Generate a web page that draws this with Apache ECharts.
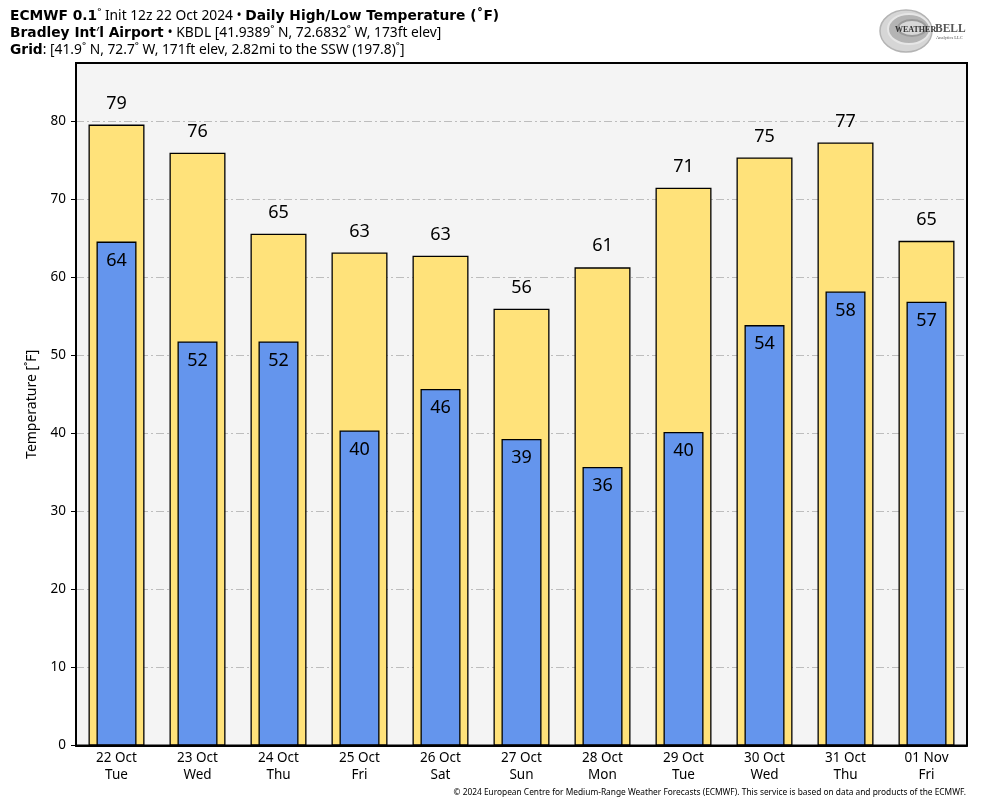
<!DOCTYPE html>
<html lang="en">
<head>
    <meta charset="UTF-8">
    <title>ECMWF Daily High/Low Temperature</title>
    <script src="https://cdn.jsdelivr.net/npm/echarts@6/dist/echarts.min.js"></script>
    <style>
        html, body { margin: 0; padding: 0; background: #fff; }
    </style>
</head>
<body>
<div id="chart" style="width: 984px;height: 808px;"></div>
<script>
    var days = ['22 Oct\nTue','23 Oct\nWed','24 Oct\nThu','25 Oct\nFri','26 Oct\nSat','27 Oct\nSun','28 Oct\nMon','29 Oct\nTue','30 Oct\nWed','31 Oct\nThu','01 Nov\nFri'];
    var highs = [79.6, 76.0, 65.6, 63.2, 62.8, 56.0, 61.3, 71.5, 75.4, 77.3, 64.7];
    var lows = [64.6, 51.8, 51.8, 40.4, 45.7, 39.3, 35.7, 40.2, 53.9, 58.2, 56.9];
    // printed labels don't always round the bar height, so keep them separately
    var highLabels = [79, 76, 65, 63, 63, 56, 61, 71, 75, 77, 65];
    var lowLabels = [64, 52, 52, 40, 46, 39, 36, 40, 54, 58, 57];
    var yTicks = [0, 10, 20, 30, 40, 50, 60, 70, 80];

    var font = '"Noto Sans", sans-serif';
    var rich = {
        b: { fontFamily: '"DejaVu Sans", sans-serif', fontSize: 13.8, fontWeight: 'bold', color: '#000' },
        n: { fontFamily: font, fontSize: 13.8, fontWeight: 'normal', color: '#000' }
    };

    function headLine(top, text) {
        return { left: 10, top: top, padding: 0, text: text, textStyle: { rich: rich, fontSize: 14, fontWeight: 'normal' } };
    }

    var mychart = echarts.init(document.getElementById('chart'), null, { renderer: 'canvas' });

    var option = {
        animation: false,
        backgroundColor: '#fff',
        title: [
            headLine(9, '{b|ECMWF 0.1}{n|˚ Init 12z 22 Oct 2024 • }{b|Daily High/Low Temperature (˚F)}'),
            headLine(26, '{b|Bradley Int}{n|′}{b|l Airport} {n|• KBDL [41.9389˚ N, 72.6832˚ W, 173ft elev]}'),
            headLine(43, '{b|Grid}{n|: [41.9˚ N, 72.7˚ W, 171ft elev, 2.82mi to the SSW (197.8)˚]}'),
            {
                right: 18, top: 789, padding: 0,
                text: '© 2024 European Centre for Medium-Range Weather Forecasts (ECMWF). This service is based on data and products of the ECMWF.',
                textStyle: { fontFamily: font, fontSize: 8.36, fontWeight: 'normal', color: '#000' }
            }
        ],
        grid: {
            left: 76, right: 17, top: 63, bottom: 62.5,
            show: true,
            backgroundColor: '#f4f4f4',
            borderColor: '#000',
            borderWidth: 2
        },
        xAxis: [
            {
                type: 'category',
                data: days,
                axisLine: { show: true, lineStyle: { color: '#000', width: 2 } },
                axisTick: { show: false },
                axisLabel: { fontFamily: font, fontSize: 13.5, color: '#000', lineHeight: 17, margin: 4.5, interval: 0 }
            },
            {
                type: 'category',
                data: days,
                position: 'bottom',
                show: false
            }
        ],
        yAxis: {
            type: 'value',
            min: 0,
            max: 87.5,
            interval: 10,
            name: 'Temperature [˚F]',
            nameLocation: 'middle',
            nameGap: 37,
            nameTextStyle: { fontFamily: font, fontSize: 14, color: '#000' },
            axisLine: { show: true, lineStyle: { color: '#000', width: 2 } },
            axisTick: { show: true, length: 5, customValues: yTicks, lineStyle: { color: '#000', width: 1 } },
            axisLabel: { fontFamily: font, fontSize: 13.5, color: '#000', margin: 10, customValues: yTicks },
            splitLine: { show: true, lineStyle: { color: '#bdbdbd', width: 1, type: [8, 3, 2, 3] } }
        },
        series: [
            {
                name: 'High',
                type: 'bar',
                xAxisIndex: 0,
                barWidth: 56,
                z: 2,
                data: highs,
                itemStyle: { color: '#ffe27a', borderColor: '#000', borderWidth: 1.3 },
                label: {
                    show: true, position: 'top', distance: 12,
                    fontFamily: font, fontSize: 18, color: '#000',
                    formatter: function (p) { return highLabels[p.dataIndex]; }
                }
            },
            {
                name: 'Low',
                type: 'bar',
                xAxisIndex: 1,
                barWidth: 40,
                z: 3,
                data: lows,
                itemStyle: { color: '#6495ed', borderColor: '#000', borderWidth: 1.3 },
                label: {
                    show: true, position: 'insideTop', distance: 10,
                    fontFamily: font, fontSize: 18, color: '#000',
                    formatter: function (p) { return lowLabels[p.dataIndex]; }
                }
            }
        ],
        graphic: [
            // rough stand-in for the WeatherBell logo
            { type: 'ellipse', shape: { cx: 906, cy: 31, rx: 26, ry: 21 }, style: { fill: '#d6d6d6', stroke: '#b4b4b4', lineWidth: 1.5 }, z: 5 },
            { type: 'ellipse', shape: { cx: 909, cy: 29, rx: 21, ry: 15 }, style: { fill: '#b4b4b4', stroke: '#e6e6e6', lineWidth: 2 }, z: 5 },
            { type: 'ellipse', shape: { cx: 912, cy: 28, rx: 14, ry: 8 }, style: { fill: '#d8d8d8', stroke: '#9a9a9a', lineWidth: 2 }, z: 5 },
            { type: 'text', left: 895, top: 26, style: { text: 'WEATHER', fontFamily: 'Liberation Serif, serif', fontSize: 8, fontWeight: 'bold', fill: '#333' }, z: 6 },
            { type: 'text', left: 935, top: 23, style: { text: 'BELL', fontFamily: 'Liberation Serif, serif', fontSize: 11.5, fontWeight: 'bold', fill: '#555' }, z: 6 },
            { type: 'text', left: 936, top: 35, style: { text: 'Analytics LLC', fontFamily: 'Liberation Serif, serif', fontSize: 4.5, fill: '#555' }, z: 6 }
        ]
    };
    mychart.setOption(option);
</script>
</body>
</html>
